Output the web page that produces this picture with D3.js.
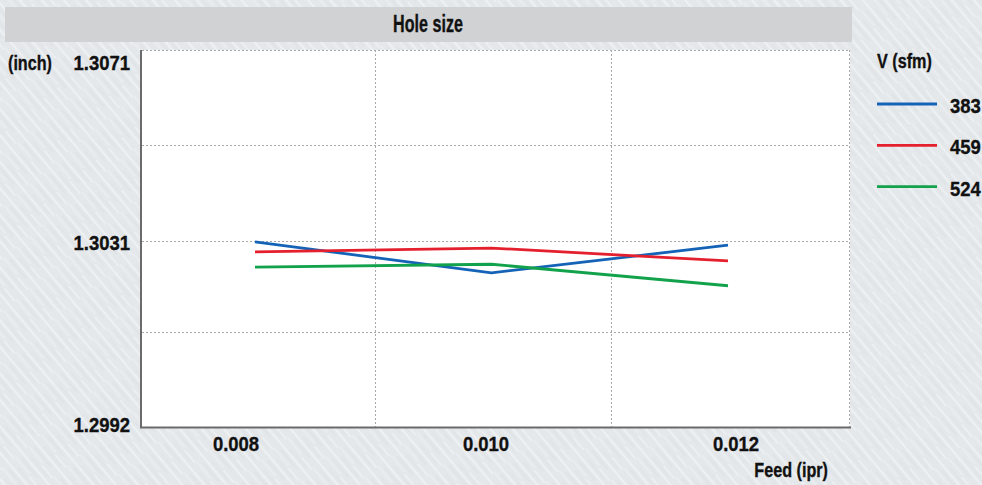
<!DOCTYPE html>
<html><head><meta charset="utf-8">
<script src="https://cdn.jsdelivr.net/npm/d3@7/dist/d3.min.js"></script>
<style>
html,body{margin:0;padding:0;background:#e6e9ec;}
svg{display:block;}
text{font-family:"Liberation Sans",Arial,sans-serif;font-weight:bold;fill:#111;stroke:#111;stroke-width:0.35px;font-size:21px;}
</style></head>
<body>
<svg id="chart" width="982" height="485"></svg>
<script>
const title = "Hole size";
const feeds = [0.008, 0.010, 0.012];
const feedLabels = ["0.008", "0.010", "0.012"];
const yTicks = [1.3071, 1.3031, 1.2992];
const yGrid = [1.3071, 1.3051, 1.3031, 1.3012];
const seriesNames = ["383", "459", "524"];
const v383 = [1.30308, 1.30243, 1.30301];
const v459 = [1.30287, 1.30295, 1.30268];
const v524 = [1.30255, 1.30261, 1.30216];
const colors = ["#1463b7", "#e5202e", "#12a24c"];

const svg = d3.select("#chart");
const W = 982, H = 485;

// background brushed texture
const defs = svg.append("defs");
const pat = defs.append("pattern").attr("id","brush").attr("patternUnits","userSpaceOnUse")
  .attr("width",40).attr("height",17).attr("patternTransform","rotate(50)");
pat.append("rect").attr("width",40).attr("height",17).attr("fill","#e4e8eb");
[[0,2,40,1.6,"#f2f4f5"],[5,6,30,0.8,"#dadee1"],[0,10,22,1.2,"#eff1f3"],[24,12,40,1.0,"#f5f6f7"],[10,15,36,0.7,"#dcdfe2"]]
  .forEach(([x1,yy,x2,w,c])=>pat.append("line").attr("x1",x1).attr("y1",yy).attr("x2",x2).attr("y2",yy).attr("stroke",c).attr("stroke-width",w));
svg.append("rect").attr("width",W).attr("height",H).attr("fill","url(#brush)");

const L = 142, R = 850, T = 50, B = 427;
const x = d3.scaleLinear().domain([0.008, 0.012]).range([255, 728]);
const xLab = d3.scalePoint().domain(feedLabels).range([236, 736]);
const y = d3.scaleLinear().domain([1.2992, 1.3071]).range([B, T]);

function txt(sel, px, py, s, anchor, sx){
  return sel.append("text").attr("transform",`translate(${px},${py}) scale(${sx},1)`)
    .attr("text-anchor",anchor||"start").text(s);
}
const SX_L = 0.77, SX_D = 0.88;

// title bar
svg.append("rect").attr("x",5).attr("y",7).attr("width",847).attr("height",35).attr("fill","#d1d2d4");
txt(svg, 428, 32, title, "middle", 0.70).style("font-size","23px");

// plot area
svg.append("rect").attr("x",L).attr("y",T).attr("width",R-L).attr("height",B-T).attr("fill","#fff");

// grid
const g = svg.append("g");
g.selectAll("line.h").data(yGrid).join("line")
  .attr("x1",L).attr("x2",R).attr("y1",d=>Math.round(y(d))+0.5).attr("y2",d=>Math.round(y(d))+0.5)
  .attr("stroke","#a9a9a9").attr("stroke-dasharray","2,2").attr("stroke-width",1);
const vGrid = [L + (R-L)*0.331, L + (R-L)*0.664, R];
g.selectAll("line.v").data(vGrid).join("line")
  .attr("x1",d=>Math.round(d)-0.5).attr("x2",d=>Math.round(d)-0.5).attr("y1",T).attr("y2",B)
  .attr("stroke","#a9a9a9").attr("stroke-dasharray","2,2").attr("stroke-width",1);

// axes lines
svg.append("line").attr("x1",L-1).attr("x2",L-1).attr("y1",T).attr("y2",B+1).attr("stroke","#6b6b6b").attr("stroke-width",2);
svg.append("line").attr("x1",L-2).attr("x2",R+1).attr("y1",B+0.5).attr("y2",B+0.5).attr("stroke","#6b6b6b").attr("stroke-width",2);

// y tick labels
yTicks.forEach(d=>{
  const by = Math.min(Math.max(y(d)+9, T+20), B+5);
  txt(svg, 130, by, d.toFixed(4), "end", SX_D);
});
txt(svg, 8, 70, "(inch)", "start", SX_L);

// x tick labels
feedLabels.forEach(d=>txt(svg, xLab(d), 451, d, "middle", SX_D));
txt(svg, 828, 477, "Feed (ipr)", "end", SX_L);

// lines
const series = [v383, v459, v524];
const line = d3.line().x((d,i)=>x(feeds[i])).y(d=>y(d));
svg.selectAll("path.s").data(series).join("path")
  .attr("d",line).attr("fill","none").attr("stroke",(d,i)=>colors[i]).attr("stroke-width",2.8);

// legend
txt(svg, 877, 68, "V (sfm)", "start", SX_L);
seriesNames.forEach((d,i)=>{
  const ly = 104 + i*41.3;
  svg.append("line").attr("x1",877).attr("x2",937).attr("y1",ly).attr("y2",ly).attr("stroke",colors[i]).attr("stroke-width",2.8);
  txt(svg, 950, ly+9, d, "start", SX_D);
});
</script>
</body></html>
